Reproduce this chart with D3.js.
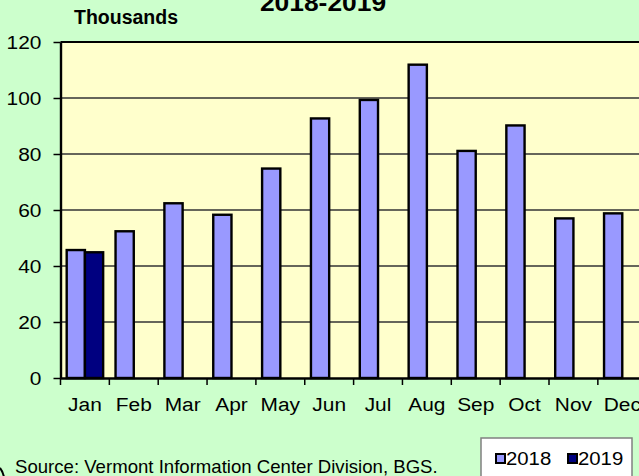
<!DOCTYPE html>
<html>
<head>
<meta charset="utf-8">
<script src="https://cdn.jsdelivr.net/npm/d3@7/dist/d3.min.js"></script>
<style>
  body { margin: 0; background: #CCFFCC; }
  svg { display: block; font-family: "Liberation Sans", Arial, sans-serif; }
</style>
</head>
<body>
<svg id="chart"></svg>
<script>
// ---------------- data (thousands) ----------------
var months = ["Jan","Feb","Mar","Apr","May","Jun","Jul","Aug","Sep","Oct","Nov","Dec"];
var sales2018 = [45.7, 52.4, 62.4, 58.3, 74.8, 92.7, 99.3, 111.9, 81.1, 90.2, 57.0, 58.8];
var sales2019 = [44.9];
var seriesNames = ["2018","2019"];
var seriesColors = ["#9999FF","#000080"];
var yTicks = [0,20,40,60,80,100,120];

var screen = { width: 639, height: 476 };
var margins = { top: 42, left: 60.5, bottom: 98 };
var plotRight = 646.7;   // plot runs past the right edge in the original
var stretch = 1.1;       // chart text looks a bit wide

var svg = d3.select("#chart")
  .attr("width", screen.width)
  .attr("height", screen.height);

svg.append("rect")
  .attr("width", screen.width)
  .attr("height", screen.height)
  .attr("fill", "#CCFFCC");

var xScale = d3.scaleBand()
  .domain(months)
  .range([margins.left, plotRight]);
var xSeries = d3.scaleBand()
  .domain(seriesNames)
  .range([0, xScale.bandwidth()])
  .paddingInner(0)
  .paddingOuter(0.34);
var yScale = d3.scaleLinear()
  .domain([0,120])
  .range([screen.height - margins.bottom, margins.top]);

var colors = d3.scaleOrdinal().domain(seriesNames).range(seriesColors);

// plot area
svg.append("rect")
  .attr("x", margins.left)
  .attr("y", yScale(120))
  .attr("width", plotRight - margins.left)
  .attr("height", yScale(0) - yScale(120))
  .attr("fill", "#FFFFCC");

// gridlines
svg.append("g")
  .selectAll("line")
  .data(yTicks.filter(function(t){ return t > 0 && t < 120; }))
  .enter()
  .append("line")
  .attr("x1", margins.left)
  .attr("x2", plotRight)
  .attr("y1", function(d){ return yScale(d); })
  .attr("y2", function(d){ return yScale(d); })
  .attr("stroke", "#66665a")
  .attr("stroke-width", 1.8);

// top border of plot
svg.append("line")
  .attr("x1", margins.left).attr("x2", plotRight)
  .attr("y1", yScale(120)).attr("y2", yScale(120))
  .attr("stroke", "#000").attr("stroke-width", 2.2);

// bars
var rows = months.map(function(m, i) {
  var vals = [{ s: "2018", v: sales2018[i] }];
  if (sales2019[i] != null) vals.push({ s: "2019", v: sales2019[i] });
  return { month: m, values: vals };
});

var groups = svg.append("g")
  .selectAll("g")
  .data(rows)
  .enter()
  .append("g")
  .attr("transform", function(d){ return "translate(" + xScale(d.month) + ",0)"; });

groups.selectAll("rect")
  .data(function(d){ return d.values; })
  .enter()
  .append("rect")
  .attr("x", function(d){ return xSeries(d.s); })
  .attr("y", function(d){ return yScale(d.v); })
  .attr("width", xSeries.bandwidth())
  .attr("height", function(d){ return yScale(0) - yScale(d.v); })
  .attr("fill", function(d){ return colors(d.s); })
  .attr("stroke", "#000")
  .attr("stroke-width", 2.4);

// y axis
var yAxis = d3.axisLeft(yScale)
  .tickValues(yTicks)
  .tickSize(7)
  .tickPadding(12)
  .tickSizeOuter(0);
var yG = svg.append("g")
  .attr("transform", "translate(" + margins.left + ",0)")
  .call(yAxis);
yG.select(".domain").attr("stroke", "#000").attr("stroke-width", 2.4);
yG.selectAll(".tick line").attr("stroke", "#000").attr("stroke-width", 1.5);
yG.selectAll(".tick text")
  .attr("font-size", 19)
  .attr("font-family", "Liberation Sans, Arial, sans-serif")
  .attr("fill", "#000")
  .attr("x", null)
  .attr("transform", "translate(-19,0) scale(" + stretch + ",1)");

// x axis
var xAxis = d3.axisBottom(xScale)
  .tickSize(0)
  .tickPadding(20)
  .tickSizeOuter(0);
var xG = svg.append("g")
  .attr("transform", "translate(0," + yScale(0) + ")")
  .call(xAxis);
xG.select(".domain").attr("stroke", "#000").attr("stroke-width", 2.4);
xG.selectAll(".tick text")
  .attr("font-size", 19)
  .attr("font-family", "Liberation Sans, Arial, sans-serif")
  .attr("fill", "#000")
  .attr("transform", "scale(" + stretch + ",1)");

// ticks between categories
xG.selectAll("line.sep")
  .data(months)
  .enter()
  .append("line")
  .classed("sep", true)
  .attr("x1", function(d){ return xScale(d); })
  .attr("x2", function(d){ return xScale(d); })
  .attr("y1", 0)
  .attr("y2", 7)
  .attr("stroke", "#000")
  .attr("stroke-width", 1.5);

// titles
svg.append("text")
  .attr("transform", "translate(323,10.5) scale(" + stretch + ",1)")
  .attr("text-anchor", "middle")
  .attr("font-size", 24)
  .attr("font-weight", "bold")
  .text("2018-2019");

svg.append("text")
  .attr("x", 74)
  .attr("y", 24)
  .attr("font-size", 19.5)
  .attr("font-weight", "bold")
  .text("Thousands");

svg.append("text")
  .attr("x", 15)
  .attr("y", 472.5)
  .attr("font-size", 18.6)
  .text("Source: Vermont Information Center Division, BGS.");

// corner of the outer frame
svg.append("path")
  .attr("d", "M0,468 Q2.5,471 4,477")
  .attr("fill", "none")
  .attr("stroke", "#000")
  .attr("stroke-width", 2);

// legend
var legend = svg.append("g")
  .attr("transform", "translate(481,438)");
legend.append("rect")
  .attr("width", 151)
  .attr("height", 60)
  .attr("fill", "#fff")
  .attr("stroke", "#808080")
  .attr("stroke-width", 1.5);
var legendItems = legend.selectAll("g")
  .data(seriesNames)
  .enter()
  .append("g")
  .attr("transform", function(d, i){ return "translate(" + (15 + i * 72) + ",0)"; });
legendItems.append("rect")
  .attr("x", 0)
  .attr("y", 16)
  .attr("width", 9)
  .attr("height", 9)
  .attr("fill", function(d){ return colors(d); })
  .attr("stroke", "#000")
  .attr("stroke-width", 2);
legendItems.append("text")
  .attr("transform", "translate(10,26.5) scale(" + stretch + ",1)")
  .attr("font-size", 18.5)
  .text(function(d){ return d; });
</script>
</body>
</html>
